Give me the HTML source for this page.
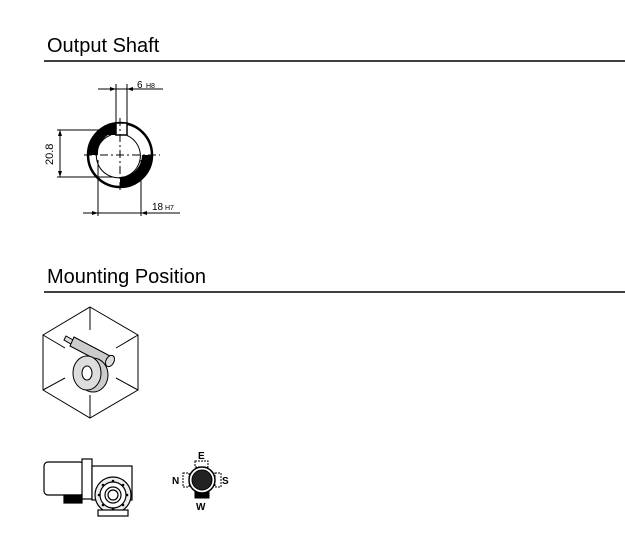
<!DOCTYPE html>
<html><head><style>
body{margin:0;background:#fff;width:625px;height:537px;overflow:hidden;font-family:"Liberation Sans",sans-serif}
</style></head><body>
<svg width="625" height="537" xmlns="http://www.w3.org/2000/svg" font-family="Liberation Sans, sans-serif">
<text x="47" y="52" font-size="20" fill="#000">Output Shaft</text>
<line x1="44" y1="61" x2="625" y2="61" stroke="#000" stroke-width="1.6"/>
<text x="47" y="283" font-size="20" fill="#000">Mounting Position</text>
<line x1="44" y1="292" x2="625" y2="292" stroke="#000" stroke-width="1.6"/>

<!-- shaft -->
<g stroke="#000" fill="none" stroke-width="1">
<path d="M88 155 A32 32 0 0 1 116 123.3 L116 135 L108 135 A22 22 0 0 0 98 155 Z" fill="#000" stroke="none"/>
<path d="M152 155 A32 32 0 0 1 120 187 L120 177 A22 22 0 0 0 142 155 Z" fill="#000" stroke="none"/>
<circle cx="120" cy="155" r="32" stroke-width="2.5"/>
<path d="M111 135 A22 22 0 1 0 127 135.5" stroke-width="1"/>
<rect x="116" y="123" width="11" height="12" fill="#fff" stroke-width="1.5"/>
<line x1="84" y1="155" x2="160" y2="155" stroke-dasharray="8,3,2,3"/>
<line x1="120" y1="118" x2="120" y2="192" stroke-dasharray="8,3,2,3"/>
<line x1="116" y1="84" x2="116" y2="135"/>
<line x1="127" y1="84" x2="127" y2="135"/>
<line x1="98" y1="89" x2="163" y2="89"/>
<line x1="57" y1="130" x2="113" y2="130"/>
<line x1="57" y1="177" x2="113" y2="177"/>
<line x1="60" y1="130" x2="60" y2="177"/>
<line x1="98" y1="160" x2="98" y2="216"/>
<line x1="141" y1="160" x2="141" y2="216"/>
<line x1="83" y1="213" x2="180" y2="213"/>
</g>
<g fill="#000">
<path d="M116 89 l-6 -2 v4z M127 89 l6 -2 v4z M60 130 l-2 6 h4z M60 177 l-2 -6 h4z M98 213 l-6 -2 v4z M141 213 l6 -2 v4z"/>
</g>
<text x="137" y="88" font-size="10">6</text><text x="146" y="88" font-size="7">H8</text>
<text x="152" y="210" font-size="10">18</text><text x="165" y="210" font-size="7">H7</text>
<text x="0" y="0" font-size="11" transform="translate(53,165) rotate(-90)">20.8</text>

<!-- cube -->
<g stroke="#000" fill="none" stroke-width="1">
<polygon points="90,307 138,335 138,390 90,418 43,390 43,335"/>
<line x1="90" y1="307" x2="90" y2="330"/>
<line x1="43" y1="335" x2="65" y2="348"/>
<line x1="138" y1="335" x2="116" y2="348"/>
<line x1="90" y1="418" x2="90" y2="395"/>
<line x1="43" y1="390" x2="65" y2="378"/>
<line x1="138" y1="390" x2="116" y2="378"/>
<path d="M66 336 L73 340 L71 344 L64 340Z" fill="#ddd"/>
<path d="M74 337 L112 357 L108 366 L70 346 Z" fill="#ccc"/>
<ellipse cx="110" cy="361" rx="4" ry="6" transform="rotate(28 110 361)" fill="#ddd"/>
<ellipse cx="93" cy="375" rx="15" ry="17" fill="#ccc"/>
<ellipse cx="87" cy="373" rx="14" ry="17" fill="#ddd"/>
<ellipse cx="87" cy="373" rx="5" ry="7" fill="#fff"/>
</g>

<!-- motor -->
<g stroke="#000" fill="#fff" stroke-width="1.2">
<rect x="44" y="462" width="40" height="33" rx="4"/>
<rect x="82" y="459" width="10" height="40"/>
<rect x="92" y="466" width="40" height="34"/>
<rect x="64" y="495" width="18" height="8" fill="#000"/>
<circle cx="113" cy="495" r="18" fill="#eee"/>
<circle cx="113" cy="495" r="13"/>
<circle cx="113" cy="495" r="8"/>
<circle cx="113" cy="495" r="5"/>
<rect x="98" y="510" width="30" height="6"/>
</g>
<g fill="#000">
<circle cx="113" cy="481" r="1.3"/><circle cx="113" cy="509" r="1.3"/><circle cx="99" cy="495" r="1.3"/><circle cx="127" cy="495" r="1.3"/>
<circle cx="103" cy="485" r="1.3"/><circle cx="123" cy="485" r="1.3"/><circle cx="103" cy="505" r="1.3"/><circle cx="123" cy="505" r="1.3"/>
</g>

<!-- compass -->
<g stroke="#000" stroke-width="1">
<rect x="195" y="461" width="13" height="6" fill="none" stroke-dasharray="2,1"/>
<rect x="183" y="473" width="6" height="14" fill="none" stroke-dasharray="2,1"/>
<rect x="215" y="473" width="6" height="14" fill="none" stroke-dasharray="2,1"/>
<rect x="195" y="491" width="14" height="7" fill="#000"/>
<circle cx="202" cy="480" r="13" fill="#fff" stroke-width="1.5"/>
<circle cx="202" cy="480" r="10" fill="#222"/>
</g>
<g font-size="10" font-weight="bold">
<text x="198" y="459">E</text><text x="172" y="484">N</text><text x="222" y="484">S</text><text x="196" y="510">W</text>
</g>
</svg>
</body></html>
